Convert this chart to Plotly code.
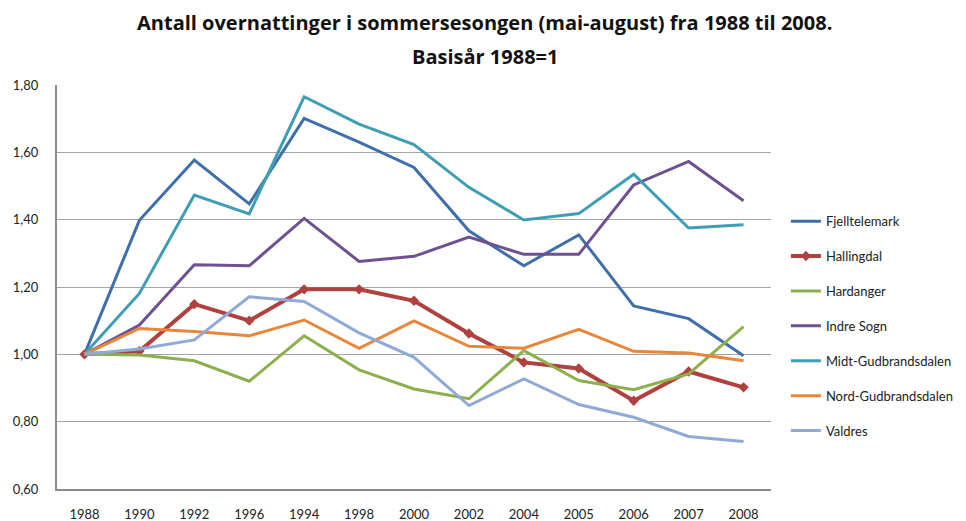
import plotly.graph_objects as go

years = ["1988", "1990", "1992", "1996", "1994", "1998", "2000", "2002", "2004", "2005", "2006", "2007", "2008"]

fjelltelemark = [1.00, 1.398, 1.577, 1.447, 1.701, 1.630, 1.555, 1.367, 1.263, 1.355, 1.144, 1.106, 0.996]
hallingdal = [1.00, 1.009, 1.149, 1.100, 1.193, 1.193, 1.159, 1.062, 0.976, 0.958, 0.862, 0.949, 0.902]
hardanger = [1.00, 0.998, 0.981, 0.920, 1.055, 0.954, 0.897, 0.868, 1.011, 0.922, 0.895, 0.942, 1.082]
indre_sogn = [1.00, 1.087, 1.266, 1.263, 1.404, 1.276, 1.291, 1.348, 1.297, 1.297, 1.503, 1.573, 1.456]
midt_gudbrandsdalen = [1.00, 1.181, 1.473, 1.417, 1.765, 1.684, 1.623, 1.496, 1.399, 1.418, 1.535, 1.375, 1.385]
nord_gudbrandsdalen = [1.00, 1.077, 1.068, 1.055, 1.102, 1.018, 1.099, 1.024, 1.018, 1.074, 1.009, 1.004, 0.981]
valdres = [1.00, 1.016, 1.043, 1.171, 1.157, 1.064, 0.991, 0.848, 0.927, 0.851, 0.813, 0.756, 0.741]

series_names = ["Fjelltelemark", "Hallingdal", "Hardanger", "Indre Sogn",
                "Midt-Gudbrandsdalen", "Nord-Gudbrandsdalen", "Valdres"]
series_values = [fjelltelemark, hallingdal, hardanger, indre_sogn,
                 midt_gudbrandsdalen, nord_gudbrandsdalen, valdres]
colors = ["#3F6FAA", "#B0413E", "#8DB04C", "#6E5190", "#3E9EB5", "#E8873A", "#8FAAD6"]

title_line1 = "Antall overnattinger i sommersesongen (mai-august) fra 1988 til 2008."
title_line2 = "Basisår 1988=1"

fig = go.Figure()
for i, (name, vals) in enumerate(zip(series_names, series_values)):
    is_hall = name == "Hallingdal"
    fig.add_trace(go.Scatter(
        x=years, y=vals, name=name,
        mode="lines+markers" if is_hall else "lines",
        line=dict(color=colors[i], width=4 if is_hall else 3),
        marker=dict(symbol="diamond", size=8, color=colors[i]) if is_hall else None,
        legendgroup=name,
    ))

title_font = dict(family="Open Sans, sans-serif", size=20, color="#111111")
fig.add_annotation(text="<b>" + title_line1 + "</b>", xref="paper", yref="paper",
                   x=0.599, y=1.155, xanchor="center", yanchor="middle",
                   showarrow=False, font=title_font)
fig.add_annotation(text="<b>" + title_line2 + "</b>", xref="paper", yref="paper",
                   x=0.599, y=1.071, xanchor="center", yanchor="middle",
                   showarrow=False, font=title_font)

# page body has an 8px margin, so the figure is sized to fill the rest of the window
fig.update_layout(
    width=958, height=513,
    paper_bgcolor="white", plot_bgcolor="white",
    margin=dict(l=49, r=195, t=77, b=32, autoexpand=False),
    separators=", ",
    font=dict(family="Lato, sans-serif", color="#222222"),
    legend=dict(
        xref="container", x=0.812, xanchor="left",
        y=0.70, yanchor="top",
        font=dict(size=13),
        traceorder="grouped", tracegroupgap=15,
        itemwidth=30,
    ),
    xaxis=dict(
        type="category", showgrid=False, automargin=False,
        range=[-0.5, len(years) - 0.5],
        showline=True, linecolor="#8C8C8C", linewidth=2,
        ticks="outside", ticklen=12, tickcolor="rgba(0,0,0,0)",
        tickfont=dict(size=13),
    ),
    yaxis=dict(
        range=[0.6, 1.8], dtick=0.2, tickformat=".2f", automargin=False,
        showgrid=True, gridcolor="#A6A6A6", gridwidth=1,
        showline=True, linecolor="#8C8C8C", linewidth=2,
        ticks="outside", ticklen=14, tickcolor="rgba(0,0,0,0)",
        tickfont=dict(size=13), zeroline=False,
    ),
)

fig.write_html("out.html")
